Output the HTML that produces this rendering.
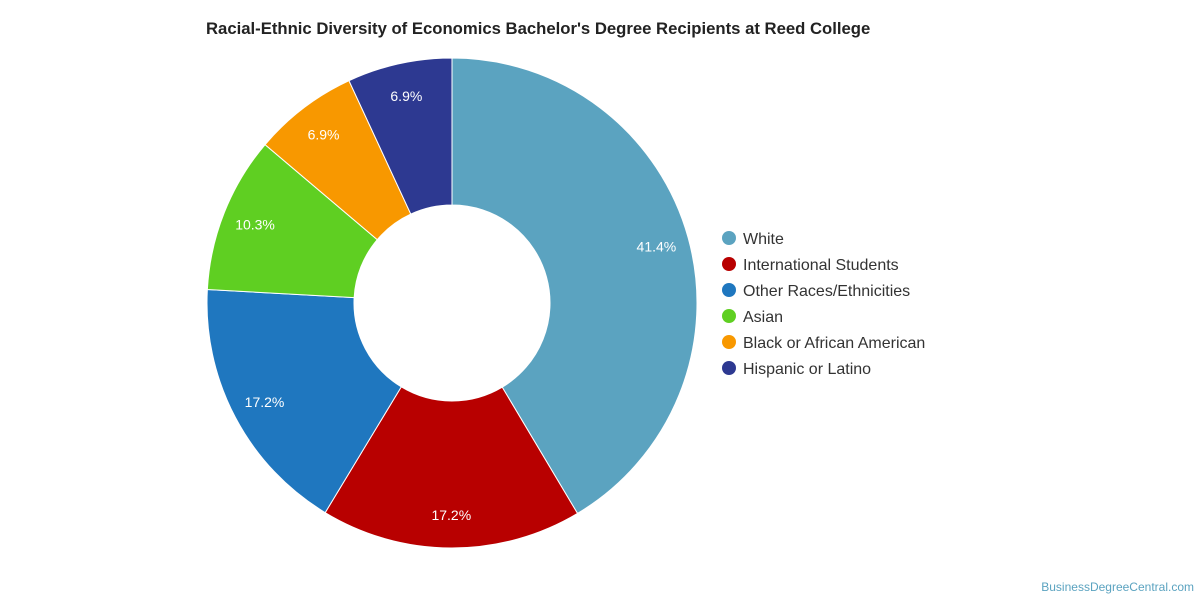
<!DOCTYPE html>
<html><head><meta charset="utf-8"><style>
body{margin:0;background:#fff;width:1200px;height:600px;overflow:hidden;font-family:"Liberation Sans",sans-serif}
</style></head><body>
<svg width="1200" height="600">
<text x="206" y="34" font-size="16.7" font-weight="bold" fill="#222">Racial-Ethnic Diversity of Economics Bachelor's Degree Recipients at Reed College</text>
<g id="slices"></g><g id="labels"></g><g id="legend"></g>
<text x="1194" y="591" font-size="12" fill="#5ba3c0" text-anchor="end">BusinessDegreeCentral.com</text>
</svg>
<script>
const categories=["White","International Students","Other Races/Ethnicities","Asian","Black or African American","Hispanic or Latino"];
const values=[41.4,17.2,17.2,10.3,6.9,6.9];
const colors=["#5ba3c0","#b80000","#1f77bf","#5fcf22","#f89800","#2d3991"];
const NS="http://www.w3.org/2000/svg",cx=452,cy=303,R=245,r=98,LR=212;
const total=values.reduce((a,b)=>a+b,0);
const pt=(a,rad)=>[cx+rad*Math.sin(a),cy-rad*Math.cos(a)];
let acc=0;
const sg=document.getElementById('slices'),lg=document.getElementById('labels'),leg=document.getElementById('legend');
values.forEach((v,i)=>{
 const a0=acc/total*2*Math.PI;acc+=v;const a1=acc/total*2*Math.PI;
 const big=a1-a0>Math.PI?1:0;
 const [x0,y0]=pt(a0,R),[x1,y1]=pt(a1,R),[x2,y2]=pt(a1,r),[x3,y3]=pt(a0,r);
 const p=document.createElementNS(NS,'path');
 p.setAttribute('d',`M${x0},${y0}A${R},${R} 0 ${big} 1 ${x1},${y1}L${x2},${y2}A${r},${r} 0 ${big} 0 ${x3},${y3}Z`);
 p.setAttribute('fill',colors[i]);p.setAttribute('stroke','#fff');p.setAttribute('stroke-width','1');
 
 
 sg.appendChild(p);
 const [lx,ly]=pt((a0+a1)/2,LR);
 const t=document.createElementNS(NS,'text');
 t.setAttribute('x',lx);t.setAttribute('y',ly+5);t.setAttribute('text-anchor','middle');
 t.setAttribute('font-size','14');t.setAttribute('fill','#fff');t.textContent=v.toFixed(1)+'%';
 
 
 lg.appendChild(t);
 const c=document.createElementNS(NS,'circle');
 c.setAttribute('cx',729);c.setAttribute('cy',238+26*i);c.setAttribute('r',7);c.setAttribute('fill',colors[i]);
 
 
 leg.appendChild(c);
 const lt=document.createElementNS(NS,'text');
 lt.setAttribute('x',743);lt.setAttribute('y',244+26*i);lt.setAttribute('font-size','16');lt.setAttribute('fill','#333');
 lt.textContent=categories[i];
 
 
 leg.appendChild(lt);
});
</script>
</body></html>
